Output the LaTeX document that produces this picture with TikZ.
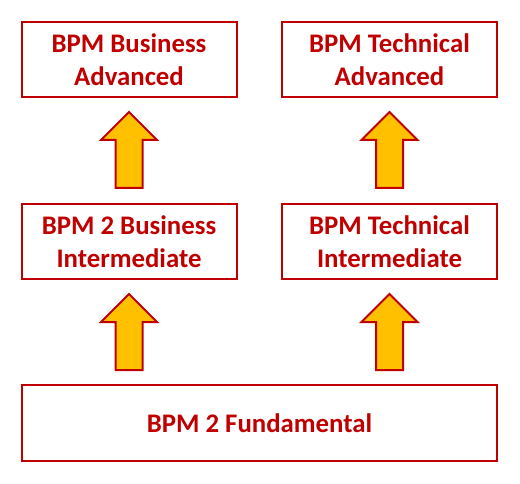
\documentclass[tikz,border=0pt]{standalone}
\usepackage{fontspec}
\setmainfont{Carlito}
\definecolor{dred}{HTML}{C00000}
\definecolor{ayel}{HTML}{FFC000}
\begin{document}
\begin{tikzpicture}[x=1pt,y=1pt,
  box/.style={draw=dred,line width=2pt,fill=white,minimum width=215pt,minimum height=75pt,
    align=center,text=dred,font=\fontsize{26.8}{32.5}\selectfont\bfseries,inner sep=0pt},
  uparrow/.pic={\draw[draw=dred,fill=ayel,line width=2pt,line join=miter]
    (0,0) -- (28,-28) -- (13.5,-28) -- (13.5,-76) -- (-13.5,-76) -- (-13.5,-28) -- (-28,-28) -- cycle;}]
\useasboundingbox (0,0) rectangle (520,-484);
\node[box] (ba) at (129,-59.5) {BPM Business\\Advanced};
\node[box] (ta) at (389.5,-59.5) {BPM Technical\\Advanced};
\node[box] (bi) at (129,-241.5) {BPM 2 Business\\Intermediate};
\node[box] (ti) at (389.5,-241.5) {BPM Technical\\Intermediate};
\node[box,minimum width=475pt,minimum height=76pt] (f) at (259.5,-423) {BPM 2 Fundamental};
\pic at (129,-112) {uparrow};
\pic at (389.5,-112) {uparrow};
\pic at (129,-294) {uparrow};
\pic at (389.5,-294) {uparrow};
\end{tikzpicture}
\end{document}
